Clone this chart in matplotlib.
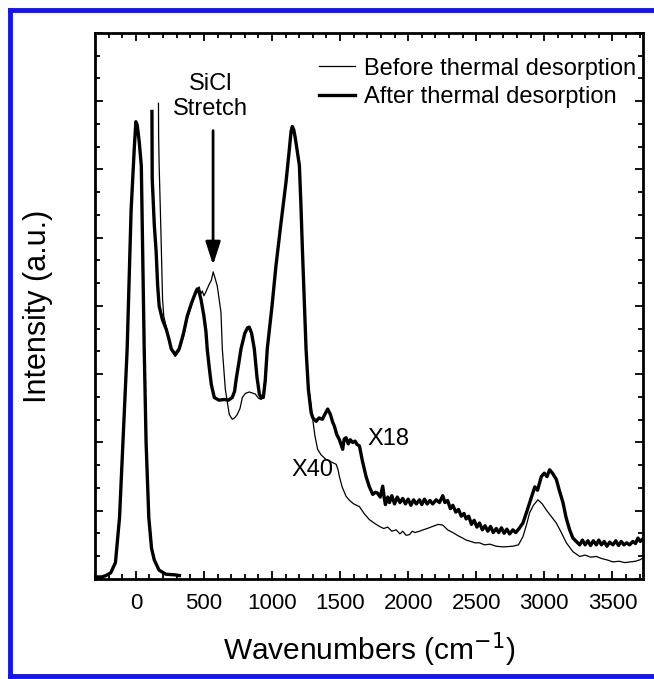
import matplotlib.pyplot as plt
from matplotlib.lines import Line2D
from matplotlib.ticker import MultipleLocator

plt.rcParams['font.family'] = ['Liberation Sans', 'DejaVu Sans']

# elastic (laser) peak, unscaled
elastic_x = [-310, -250, -220, -185, -150, -120, -95, -64, -35, -12, 0, 10, 25, 40,
             61, 75, 95, 115, 135, 170, 220, 290, 320]
elastic_y = [0.03, 0.03, 0.05, 0.09, 0.24, 0.9, 2.0, 3.37, 5.4, 6.3, 6.7, 6.65, 6.4, 6.05,
             3.4, 2.0, 0.9, 0.45, 0.28, 0.13, 0.07, 0.06, 0.05]

# before thermal desorption (x40)
before_x = [166, 167, 171, 184, 196, 205, 221, 257, 289, 318, 350, 377, 410, 441, 465, 478,
            488, 500, 515, 539, 555, 568, 580, 598, 625, 635, 657, 686, 708, 725, 745, 765,
            782, 805, 833, 877, 900, 921, 935, 951, 965, 1000, 1029, 1065, 1103, 1125, 1140,
            1149, 1160, 1171, 1201, 1212, 1223, 1250, 1267, 1287, 1299, 1315, 1335, 1360,
            1397, 1430, 1471, 1485, 1495, 1515, 1544, 1570, 1600, 1642, 1680, 1715, 1750,
            1789, 1820, 1850, 1880, 1912, 1940, 1960, 1985, 2010, 2030, 2050, 2083, 2110,
            2140, 2181, 2220, 2254, 2290, 2328, 2370, 2400, 2426, 2460, 2490, 2524, 2560,
            2600, 2647, 2700, 2769, 2810, 2843, 2870, 2892, 2920, 2953, 2985, 3015, 3050,
            3088, 3120, 3162, 3210, 3260, 3300, 3340, 3382, 3420, 3460, 3504, 3550, 3590,
            3627, 3670, 3701, 3720]
before_y = [6.97, 6.5, 6.06, 5.09, 4.10, 3.85, 3.71, 3.37, 3.26, 3.34, 3.55, 3.81, 4.02, 4.21,
            4.28, 4.18, 4.22, 4.15, 4.21, 4.32, 4.38, 4.5, 4.42, 4.29, 3.91, 3.37, 2.78, 2.41,
            2.34, 2.36, 2.41, 2.5, 2.66, 2.72, 2.74, 2.71, 2.65, 2.63, 2.7, 3.0, 3.34, 3.98,
            4.57, 5.18, 5.81, 6.23, 6.54, 6.62, 6.56, 6.44, 6.04, 5.48, 4.82, 3.35, 2.85, 2.53,
            2.34, 2.1, 1.90, 1.82, 1.75, 1.72, 1.68, 1.6, 1.50, 1.35, 1.21, 1.15, 1.1, 1.06,
            0.95, 0.87, 0.82, 0.77, 0.74, 0.76, 0.7, 0.72, 0.66, 0.7, 0.64, 0.65, 0.7, 0.68,
            0.70, 0.72, 0.74, 0.77, 0.8, 0.79, 0.72, 0.68, 0.63, 0.6, 0.57, 0.55, 0.53, 0.53,
            0.5, 0.51, 0.48, 0.47, 0.48, 0.5, 0.62, 0.8, 0.97, 1.08, 1.16, 1.1, 1.01, 0.92,
            0.82, 0.7, 0.53, 0.4, 0.33, 0.35, 0.32, 0.33, 0.3, 0.28, 0.25, 0.26, 0.24, 0.25,
            0.26, 0.28, 0.3]

# after thermal desorption (x18)
after_x = [118, 120, 135, 149, 160, 171, 195, 223, 245, 260, 289, 318, 350, 377, 410, 441,
           451, 465, 478, 500, 515, 524, 540, 554, 576, 610, 650, 680, 708, 725, 737, 755,
           772, 800, 820, 833, 850, 870, 890, 907, 920, 936, 950, 965, 1000, 1029, 1065, 1103,
           1125, 1140, 1149, 1160, 1171, 1201, 1212, 1223, 1250, 1267, 1287, 1300, 1324, 1345,
           1370, 1390, 1409, 1429, 1445, 1458, 1475, 1495, 1519, 1530, 1544, 1560, 1575, 1593,
           1610, 1625, 1642, 1665, 1691, 1715, 1740, 1760, 1774, 1795, 1813, 1825, 1833, 1850,
           1863, 1880, 1900, 1920, 1940, 1960, 1980, 2000, 2020, 2040, 2060, 2083, 2100, 2120,
           2140, 2160, 2180, 2206, 2230, 2254, 2270, 2290, 2310, 2328, 2350, 2370, 2390, 2410,
           2426, 2445, 2465, 2485, 2505, 2524, 2545, 2565, 2585, 2605, 2625, 2647, 2665, 2685,
           2705, 2725, 2745, 2769, 2790, 2815, 2843, 2870, 2904, 2930, 2950, 2978, 3000, 3020,
           3039, 3060, 3088, 3110, 3137, 3160, 3186, 3210, 3235, 3260, 3280, 3300, 3320, 3340,
           3360, 3382, 3400, 3420, 3440, 3460, 3480, 3504, 3525, 3545, 3565, 3585, 3605, 3627,
           3650, 3670, 3688, 3705, 3720]
after_y = [6.85, 5.87, 5.2, 4.79, 4.3, 4.0, 3.8, 3.66, 3.5, 3.37, 3.29, 3.37, 3.6, 3.85, 4.05,
           4.21, 4.25, 4.2, 4.10, 3.85, 3.62, 3.37, 3.08, 2.85, 2.66, 2.62, 2.63, 2.62, 2.66,
           2.75, 2.93, 3.15, 3.37, 3.6, 3.68, 3.69, 3.6, 3.37, 2.95, 2.71, 2.66, 2.66, 2.9,
           3.37, 4.0, 4.59, 5.2, 5.82, 6.25, 6.56, 6.63, 6.58, 6.46, 6.06, 5.5, 4.84, 3.37,
           2.78, 2.44, 2.36, 2.31, 2.36, 2.34, 2.42, 2.49, 2.41, 2.3, 2.24, 2.12, 2.04, 1.90,
           2.05, 2.07, 1.98, 2.04, 2.0, 2.02, 1.97, 1.95, 1.72, 1.50, 1.35, 1.24, 1.27, 1.26,
           1.20, 1.36, 1.18, 1.09, 1.2, 1.12, 1.22, 1.1, 1.2, 1.12, 1.18, 1.1, 1.17, 1.08,
           1.16, 1.1, 1.16, 1.09, 1.17, 1.1, 1.15, 1.1, 1.16, 1.12, 1.22, 1.12, 1.15, 1.03,
           1.08, 0.98, 1.02, 0.92, 0.96, 0.88, 0.92, 0.8, 0.86, 0.76, 0.82, 0.72, 0.78, 0.7,
           0.77, 0.68, 0.74, 0.68, 0.75, 0.67, 0.73, 0.66, 0.72, 0.68, 0.74, 0.82, 0.98, 1.19,
           1.35, 1.3, 1.50, 1.55, 1.5, 1.60, 1.55, 1.46, 1.3, 1.12, 0.9, 0.72, 0.6, 0.55, 0.5,
           0.57, 0.5, 0.56, 0.49, 0.56, 0.5, 0.57, 0.5, 0.55, 0.48, 0.54, 0.5, 0.56, 0.49,
           0.55, 0.5, 0.53, 0.5, 0.55, 0.52, 0.6, 0.55, 0.58]

fig = plt.figure(figsize=(6.54, 6.79), dpi=100)
ax = fig.add_axes([0.1453, 0.1473, 0.8379, 0.8041])

ax.plot(elastic_x, elastic_y, color='black', lw=2.4, label='_nolegend_')
ax.plot(before_x, before_y, color='black', lw=0.9, label='Before thermal desorption')
ax.plot(after_x, after_y, color='black', lw=2.4, label='After thermal desorption')

ax.set_xlim(-300, 3725)
ax.set_ylim(0, 8)

ax.xaxis.set_major_locator(MultipleLocator(500))
ax.xaxis.set_minor_locator(MultipleLocator(100))
ax.yaxis.set_major_locator(MultipleLocator(1))
ax.yaxis.set_minor_locator(MultipleLocator(1 / 3))
ax.tick_params(which='both', direction='in', top=True, right=True, width=1.3,
               labelsize=16, labelleft=False, pad=10)
ax.tick_params(which='major', length=6)
ax.tick_params(which='minor', length=3.5)
for s in ax.spines.values():
    s.set_linewidth(2.0)

ax.set_xlabel('Wavenumbers (cm$^{-1}$)', fontsize=21.5, labelpad=12)
ax.set_ylabel('Intensity (a.u.)', fontsize=22, labelpad=30)

ax.legend(loc='upper right', bbox_to_anchor=(0.988, 0.955), frameon=False, fontsize=17,
          handlelength=1.5, handletextpad=0.4, labelspacing=0.28, borderpad=0,
          borderaxespad=0)

# SiCl label and arrow
ax.text(548, 7.07, 'SiCl\nStretch', ha='center', va='center', fontsize=17, linespacing=1.2)
ax.annotate('', xy=(567, 4.6), xytext=(567, 6.57),
            arrowprops=dict(arrowstyle='-|>,head_width=0.45,head_length=1.4',
                            color='black', lw=2.0, shrinkA=0, shrinkB=0))

ax.text(1700, 2.05, 'X18', fontsize=17, ha='left', va='center')
ax.text(1140, 1.6, 'X40', fontsize=17, ha='left', va='center')

# blue frame around the figure
blue = '#1414f0'
fig.add_artist(Line2D([0.016, 1.0], [0.9853, 0.9853], color=blue, lw=3.5,
                      transform=fig.transFigure))
fig.add_artist(Line2D([0.016, 0.016], [0.003, 0.9853], color=blue, lw=3.5,
                      transform=fig.transFigure))
fig.add_artist(Line2D([0.016, 1.0], [0.004, 0.004], color=blue, lw=3.5,
                      transform=fig.transFigure))

fig.savefig('out.png', dpi=100)
